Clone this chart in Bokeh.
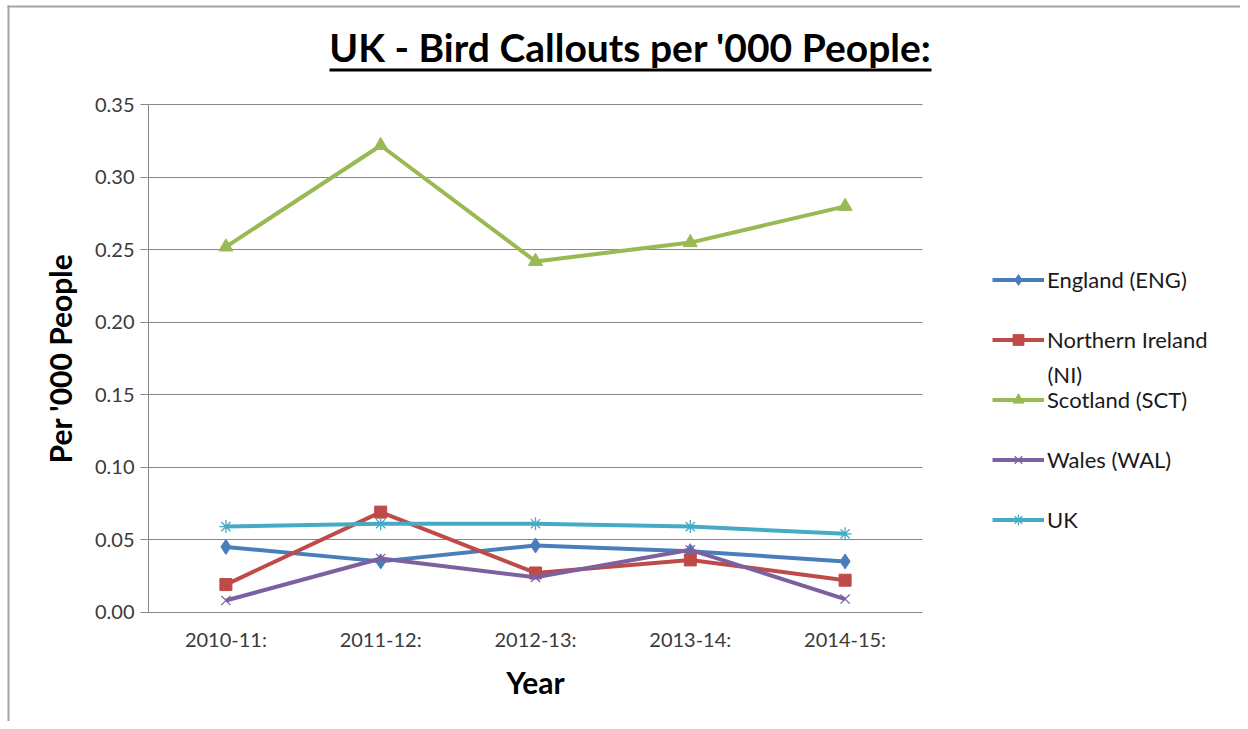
from bokeh.plotting import figure
from bokeh.models import (Range1d, Legend, LegendItem, Label, BoxAnnotation,
                          FixedTicker, NumeralTickFormatter, Grid)
from bokeh.embed import file_html
from bokeh.resources import INLINE

# ---------------- data ----------------
years = ["2010-11:", "2011-12:", "2012-13:", "2013-14:", "2014-15:"]
england = [0.045, 0.035, 0.046, 0.042, 0.035]
northern_ireland = [0.019, 0.069, 0.027, 0.036, 0.022]
scotland = [0.252, 0.322, 0.242, 0.255, 0.280]
wales = [0.008, 0.037, 0.024, 0.043, 0.009]
uk = [0.059, 0.061, 0.061, 0.059, 0.054]
y_ticks = [0.0, 0.05, 0.10, 0.15, 0.20, 0.25, 0.30, 0.35]

series_names = ["England (ENG)", "Northern Ireland", "Scotland (SCT)",
                "Wales (WAL)", "UK"]
series_values = [england, northern_ireland, scotland, wales, uk]
series_colors = ["#4A7EBB", "#BE4B48", "#98B954", "#7D60A0", "#46AAC5"]
series_markers = ["diamond", "square", "triangle", "x", "asterisk"]
series_sizes = [15, 12, 14, 13, 13]

FONT = "Lato"
W, H = 1240, 721
# pixel geometry of the chart area (canvas pixels)
AX_X_PX = 148.0      # x position of the value axis
CAT_PX = 154.8       # width of one category
Y0_PX = 611.6        # y pixel of value 0
Y_PX = 1449.1        # pixels per unit of value

def xd(px):
    return (px - AX_X_PX) / CAT_PX

def yd(py):
    return (Y0_PX - py) / Y_PX

x_pos = [i + 0.5 for i in range(len(years))]

p = figure(width=W, height=H, x_range=Range1d(xd(0), xd(W)),
           y_range=Range1d(yd(H), yd(0)), output_backend="svg",
           toolbar_location=None, min_border=0)
p.outline_line_color = None
p.background_fill_color = "white"
p.border_fill_color = "white"
p.xgrid.visible = False
p.ygrid.visible = False

# grid lines
ygrid = Grid(dimension=1, ticker=FixedTicker(ticks=y_ticks[1:]),
             grid_line_color="#868686", grid_line_width=1)
if "cross_bounds" in Grid.properties():
    ygrid.cross_bounds = (0, len(years))
    p.add_layout(ygrid)
else:
    p.segment(x0=0, x1=len(years), y0=y_ticks[1:], y1=y_ticks[1:],
              line_color="#868686", line_width=1)

items = []
for name, vals, col, mk, sz in zip(series_names, series_values, series_colors,
                                   series_markers, series_sizes):
    r1 = p.line(x_pos, vals, line_color=col, line_width=4)
    lw = 1.3 if mk in ("x", "asterisk") else 1
    r2 = p.scatter(x_pos, vals, marker=mk, size=sz, fill_color=col,
                   line_color=col, line_width=lw)
    items.append(LegendItem(label=name, renderers=[r1, r2]))

# axes (placed at fixed data locations)
p.yaxis.fixed_location = 0
p.yaxis.bounds = (0, y_ticks[-1])
p.yaxis.ticker = FixedTicker(ticks=y_ticks)
p.yaxis.formatter = NumeralTickFormatter(format="0.00")
p.yaxis.minor_tick_line_color = None
p.yaxis.major_tick_out = 8
p.yaxis.major_tick_in = 0
p.yaxis.major_label_standoff = 6
p.yaxis.axis_label = "Per '000 People"
p.yaxis.axis_label_standoff = 14

p.xaxis.fixed_location = 0
p.xaxis.bounds = (0, len(years))
p.xaxis.ticker = FixedTicker(ticks=x_pos)
p.xaxis.major_label_overrides = {x: y for x, y in zip(x_pos, years)}
p.xaxis.minor_tick_line_color = None
p.xaxis.major_tick_out = 0
p.xaxis.major_tick_in = 0
p.xaxis.major_label_standoff = 15
p.xaxis.axis_label = "Year"
p.xaxis.axis_label_standoff = 9

for ax in (p.xaxis, p.yaxis):
    ax.axis_line_color = "#868686"
    ax.major_tick_line_color = "#868686"
    ax.major_label_text_font = FONT
    ax.major_label_text_font_size = "20px"
    ax.major_label_text_color = "#3a3a3a"
    ax.axis_label_text_font = FONT
    ax.axis_label_text_font_style = "bold"
    ax.axis_label_text_font_size = "30px"
    ax.axis_label_text_color = "black"

# outer border (top and left edges)
p.add_layout(BoxAnnotation(left=xd(7), right=xd(W), top=yd(5), bottom=yd(7),
                           fill_color="#a3a3a3", fill_alpha=1, line_alpha=0))
p.add_layout(BoxAnnotation(left=xd(7), right=xd(9), top=yd(5), bottom=yd(H),
                           fill_color="#a3a3a3", fill_alpha=1, line_alpha=0))

# title + underline
p.add_layout(Label(x=xd(630), y=yd(46), text="UK - Bird Callouts per '000 People:",
                   text_font=FONT, text_font_style="bold",
                   text_font_size="39px", text_color="black",
                   text_align="center", text_baseline="alphabetic"))
p.add_layout(BoxAnnotation(left=xd(329), right=xd(931), top=yd(68), bottom=yd(71),
                           fill_color="black", fill_alpha=1, line_alpha=0))

# legend
LEG_H, LEG_SP = 27, 33
leg_height = len(items) * LEG_H + (len(items) - 1) * LEG_SP
leg_top = 279 - LEG_H // 2
legend = Legend(items=items, location=(992, H - (leg_top + leg_height)),
                orientation="vertical", glyph_width=52, glyph_height=LEG_H,
                label_height=LEG_H, label_standoff=3, spacing=LEG_SP, padding=0,
                margin=0, border_line_alpha=0, background_fill_alpha=0,
                label_text_font=FONT, label_text_font_size="22px",
                label_text_color="#1a1a1a")
p.add_layout(legend)
# second line of the wrapped legend label
p.add_layout(Label(x=xd(1047), y=yd(374), text="(NI)", text_font=FONT,
                   text_font_size="22px", text_color="#1a1a1a",
                   text_align="left", text_baseline="middle"))

open("out.html", "w").write(file_html(p, INLINE))
